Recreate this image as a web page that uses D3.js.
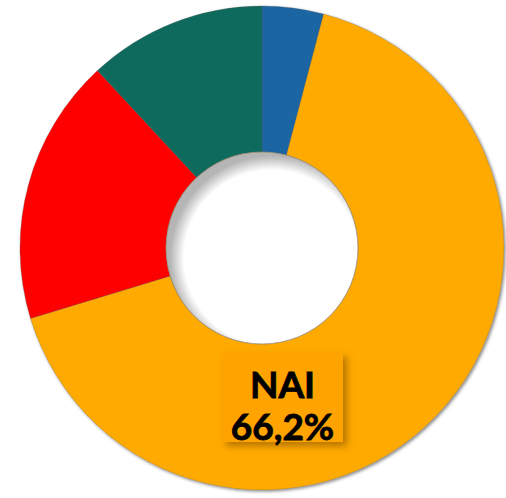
<!DOCTYPE html>
<html>
<head>
<meta charset="utf-8">
<script src="https://cdn.jsdelivr.net/npm/d3@7"></script>
<style>
  body { margin: 0; background: #fff; }
  svg { display: block; }
</style>
</head>
<body>
<svg id="chart" width="506" height="498"></svg>
<script>
// slices, clockwise from 12 o'clock
const categories = ["A", "NAI", "B", "C"];
const values = [4.1, 66.2, 17.8, 11.9];
const colors = ["#1b65a3", "#ffaa00", "#ff0000", "#0f6a5d"];
const labelText = ["NAI", "66,2%"];

const svg = d3.select("#chart");
const cx = 262, cy = 248;
const outerR = 242, innerR = 96;

const defs = svg.append("defs");
const shadow = defs.append("filter").attr("id", "shadow")
  .attr("x", "-20%").attr("y", "-20%").attr("width", "140%").attr("height", "140%");
shadow.append("feDropShadow").attr("dx", 1.5).attr("dy", 1.5)
  .attr("stdDeviation", 1.5).attr("flood-color", "#000").attr("flood-opacity", 0.45);

const boxShadow = defs.append("filter").attr("id", "boxShadow")
  .attr("x", "-20%").attr("y", "-20%").attr("width", "150%").attr("height", "150%");
boxShadow.append("feDropShadow").attr("dx", 4).attr("dy", 4)
  .attr("stdDeviation", 3.5).attr("flood-color", "#7a4a00").attr("flood-opacity", 0.55);

// inner shadow for the hole
const holeGrad = defs.append("radialGradient").attr("id", "hole")
  .attr("cx", "55%").attr("cy", "55%").attr("r", "53%");
holeGrad.append("stop").attr("offset", "86%").attr("stop-color", "#fff");
holeGrad.append("stop").attr("offset", "100%").attr("stop-color", "#b5b5b5");

const pie = d3.pie().sort(null).value(d => d);
const arc = d3.arc().innerRadius(innerR).outerRadius(outerR);

const g = svg.append("g").attr("transform", `translate(${cx},${cy})`);

g.append("g").attr("filter", "url(#shadow)")
  .selectAll("path")
  .data(pie(values))
  .join("path")
  .attr("d", arc)
  .attr("fill", (d, i) => colors[i])
  .attr("stroke", "#5a5a5a")
  .attr("stroke-opacity", 0.35)
  .attr("stroke-width", 0.8);

g.append("circle")
  .attr("r", innerR)
  .attr("fill", "url(#hole)")
  .attr("stroke", "#9a8a70")
  .attr("stroke-width", 0.8);

// label box on the NAI slice
const box = svg.append("g").attr("transform", "translate(222,353)");
box.append("rect")
  .attr("width", 121).attr("height", 89)
  .attr("fill", "#ffa300")
  .attr("filter", "url(#boxShadow)");

box.selectAll("text")
  .data(labelText)
  .join("text")
  .attr("x", 60.5)
  .attr("y", (d, i) => 45 + i * 42)
  .attr("text-anchor", "middle")
  .attr("font-family", "Lato, 'DejaVu Sans', sans-serif")
  .attr("font-weight", "bold")
  .attr("font-size", 37)
  .attr("fill", "#000")
  .attr("stroke", "#000")
  .attr("stroke-width", 0.8)
  .text(d => d);
</script>
</body>
</html>
